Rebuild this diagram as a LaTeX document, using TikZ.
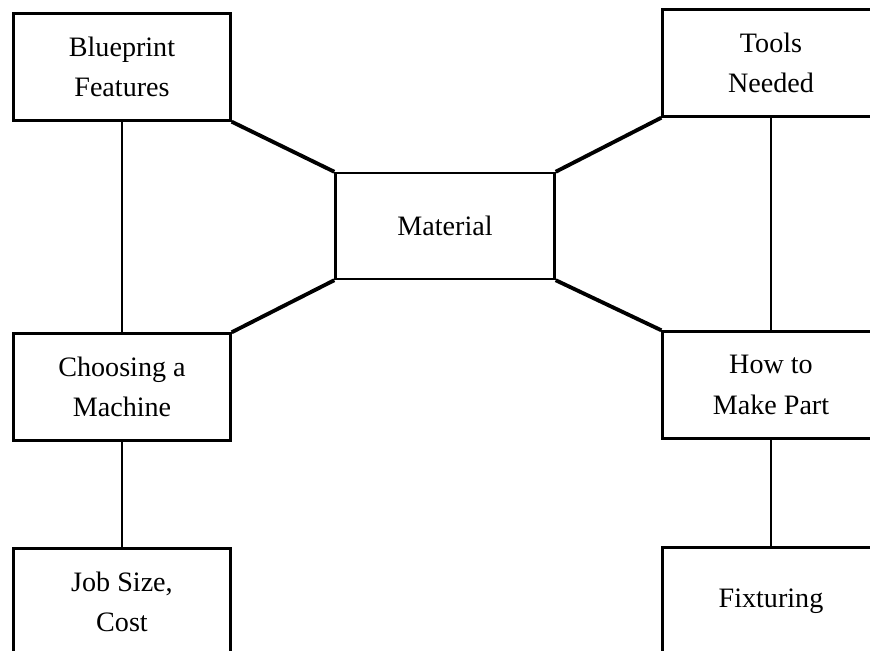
\documentclass[tikz,border=0pt]{standalone}
\usepackage{fontspec}
\setmainfont{Liberation Serif}
\usepackage{tikz}
\tikzset{box/.style={draw, line width=1.4pt, minimum width=4.34cm, minimum height=2.14cm, align=center, font=\fontsize{16}{23}\selectfont},
	link/.style={line width=2.2pt},
	stem/.style={line width=1.4pt}}

\begin{document}
\begin{tikzpicture}[x=0.02cm, y=-0.02cm]
		\clip (0,0) rectangle (870,651);
		%		boxes
		\node[box] (b) at (122,67){Blueprint\\Features};
		\node[box] (t) at (771,63){Tools\\Needed};
		\node[box, minimum width=4.38cm, minimum height=2.12cm] (m) at (445,226){Material};
		\node[box] (c) at (122,387){Choosing a\\Machine};
		\node[box] (h) at (771,385){How to\\Make Part};
		\node[box] (j) at (122,602){Job Size,\\Cost};
		\node[box] (f) at (771,601){Fixturing};
		\draw[link] (b.south east) to (m.north west);
		\draw[link] (m.north east) to (t.south west);
		\draw[link] (m.south west) to (c.north east);
		\draw[link] (m.south east) to (h.north west);
		\draw[stem] (b) to (c);
		\draw[stem] (c) to (j);
		\draw[stem] (t) to (h);
		\draw[stem] (h) to (f);
\end{tikzpicture}
\end{document}
